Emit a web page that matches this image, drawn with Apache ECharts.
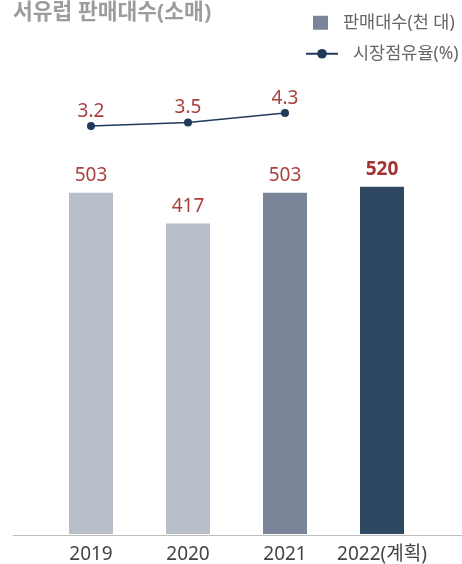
<!DOCTYPE html>
<html><head><meta charset="utf-8">
<script src="https://cdn.jsdelivr.net/npm/echarts@6/dist/echarts.min.js"></script>
<style>html,body{margin:0;padding:0;background:#fff}#c{width:462px;height:564px}</style>
</head><body><div id="c"></div>
<script>
const categories = ['2019', '2020', '2021', '2022(계획)'];
const salesValues = [503, 417, 503, 520];
const shareValues = [3.2, 3.5, 4.3, null];
const barColors = ['#b8bfcb', '#b8bfcb', '#7a8599', '#2f4862'];
const seriesNames = ['판매대수(천 대)', '시장점유율(%)'];
const titleText = '서유럽 판매대수(소매)';

const FONT = "'Noto Sans', 'Noto Sans CJK KR', sans-serif";
const chart = echarts.init(document.getElementById('c'), null, {renderer: 'canvas'});
chart.setOption({
  animation: false,
  title: {text: titleText, left: 13, top: 2, padding: 0,
    textStyle: {fontFamily: FONT, fontSize: 21.5, fontWeight: 'bold', color: '#9c9c9c'}},
  legend: [
    {data: [{name: seriesNames[0], icon: 'rect'}], left: 313, top: 14, padding: 0, itemWidth: 15, itemHeight: 14,
      textStyle: {fontFamily: FONT, fontSize: 17.5, color: '#666', padding: [0, 0, 0, 10]}},
    {data: [seriesNames[1]], left: 305, top: 45, padding: 0, itemWidth: 32, itemHeight: 12,
      textStyle: {fontFamily: FONT, fontSize: 17.5, color: '#666', padding: [0, 0, 0, 10]}}
  ],
  grid: [
    {left: 42.5, right: 31.5, top: 60, bottom: 29},
    {left: 13, right: 0, top: 60, bottom: 29}
  ],
  xAxis: [
    {type: 'category', data: categories, gridIndex: 0,
      axisLine: {show: false}, axisTick: {show: false},
      axisLabel: {interval: 0, fontFamily: FONT, fontSize: 19, color: '#444', margin: 11}},
    {type: 'category', data: [''], gridIndex: 1,
      axisLine: {show: true, lineStyle: {color: '#bdbdbd', width: 1}},
      axisTick: {show: false}, axisLabel: {show: false}}
  ],
  yAxis: [
    {type: 'value', gridIndex: 0, min: -450, max: 874, startValue: -450, show: false, splitLine: {show: false}},
    {type: 'value', gridIndex: 0, min: -31.4, max: 8.79, show: false, splitLine: {show: false}},
    {type: 'value', gridIndex: 1, show: false, splitLine: {show: false}}
  ],
  series: [
    {name: seriesNames[0], type: 'bar', xAxisIndex: 0, yAxisIndex: 0, barWidth: 44,
      itemStyle: {color: '#7a8599'},
      data: salesValues.map((v, i) => ({
        value: v,
        itemStyle: {color: barColors[i]},
        label: i === 3 ? {fontWeight: 'bold', color: '#a33232'} : undefined
      })),
      label: {show: true, position: 'top', distance: 8, fontFamily: FONT, fontSize: 19, color: '#a9403f'}},
    {name: seriesNames[1], type: 'line', xAxisIndex: 0, yAxisIndex: 1, data: shareValues,
      symbol: 'circle', symbolSize: 8, connectNulls: false,
      lineStyle: {color: '#1f3a5a', width: 1.5}, itemStyle: {color: '#1f3a5a'},
      label: {show: true, position: 'top', distance: 1, fontFamily: FONT, fontSize: 19, color: '#a9403f'}}
  ]
});
</script></body></html>
